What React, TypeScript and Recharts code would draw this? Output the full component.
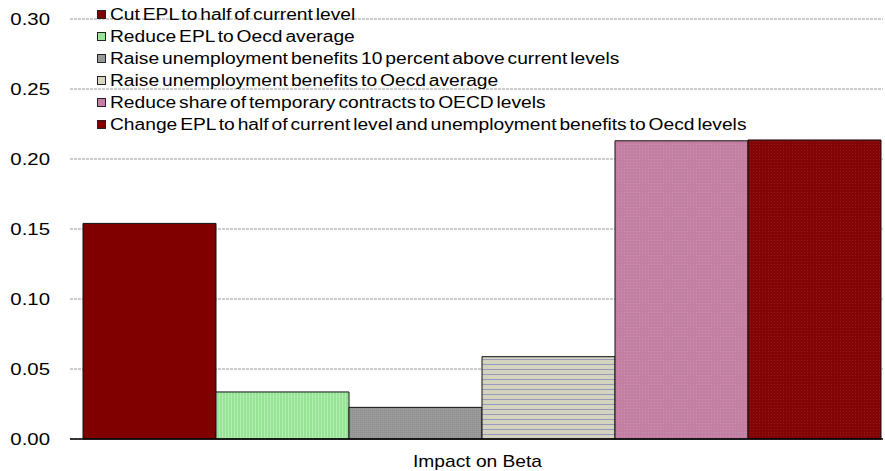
import React from 'react';
import { BarChart, Bar, XAxis, YAxis, CartesianGrid } from 'recharts';

document.body.style.margin = '0';

const categories = ['Impact on Beta'];
const seriesNames = [
  'Cut EPL to half of current level',
  'Reduce EPL to Oecd average',
  'Raise unemployment benefits 10 percent above current levels',
  'Raise unemployment benefits to Oecd average',
  'Reduce share of temporary contracts to OECD levels',
  'Change EPL to half of current level and unemployment benefits to Oecd levels',
];
const seriesValues = [0.154, 0.0336, 0.0226, 0.0588, 0.213, 0.2136];
const yTicks = [0, 0.05, 0.1, 0.15, 0.2, 0.25, 0.3];

const barFills = ['#800000', 'url(#pGreen)', 'url(#pGray)', 'url(#pBeige)', 'url(#pPink)', 'url(#pRed)'];
const swatchColors = ['#800000', '#99e699', '#999999', '#d6d6c2', '#c47fa5', '#800000'];

const data = categories.map((name) => {
  const row: Record<string, string | number> = { name };
  seriesValues.forEach((v, i) => {
    row['s' + i] = v;
  });
  return row;
});

const FONT = 'Arial, "Liberation Sans", sans-serif';

const YTick = ({ x, y, payload }: any) => (
  <text
    transform={`translate(${x},${y}) scale(1.2,1)`}
    textAnchor="end"
    dy="0.35em"
    fontSize={17}
    fontFamily={FONT}
    fill="#000"
  >
    {Number(payload.value).toFixed(2)}
  </text>
);

const XTick = ({ x, y, payload }: any) => (
  <text
    transform={`translate(${x - 5},${y}) scale(1.2,1)`}
    textAnchor="middle"
    dy="0.71em"
    fontSize={16}
    fontFamily={FONT}
    fill="#000"
  >
    {payload.value}
  </text>
);

export default function App() {
  return (
    <div style={{ position: 'relative', width: 885, height: 471, background: '#fff' }}>
      <BarChart
        width={885}
        height={471}
        data={data}
        barCategoryGap={0}
        barGap={0}
        margin={{ top: 19, right: 2, bottom: 0, left: 0 }}
      >
        <defs>
          <pattern id="pGreen" width="3" height="3" patternUnits="userSpaceOnUse">
            <rect width="3" height="3" fill="#96e396" />
            <rect width="1" height="3" fill="#b3efb3" />
          </pattern>
          <pattern id="pGray" width="2" height="2" patternUnits="userSpaceOnUse">
            <rect width="2" height="2" fill="#9a9a9a" />
            <rect width="1" height="1" fill="#8c8c8c" />
          </pattern>
          <pattern id="pBeige" width="5" height="5" patternUnits="userSpaceOnUse">
            <rect width="5" height="5" fill="#d3d3bf" />
            <rect y="4" width="5" height="1" fill="#9a9abb" />
          </pattern>
          <pattern id="pPink" width="3" height="3" patternUnits="userSpaceOnUse">
            <rect width="3" height="3" fill="#c27fa2" />
            <rect width="1" height="1" fill="#cc93b2" />
          </pattern>
          <pattern id="pRed" width="3" height="3" patternUnits="userSpaceOnUse">
            <rect width="3" height="3" fill="#820404" />
            <rect width="1" height="1" fill="#941a1a" />
          </pattern>
        </defs>
        <CartesianGrid vertical={false} stroke="#999" strokeDasharray="3 1" />
        <XAxis
          dataKey="name"
          height={32}
          padding={{ left: 13, right: 1 }}
          tickLine={false}
          tickSize={0}
          tickMargin={17}
          axisLine={{ stroke: '#000', strokeWidth: 1.5 }}
          tick={<XTick />}
        />
        <YAxis
          width={70}
          domain={[0, 0.3]}
          ticks={yTicks}
          interval={0}
          axisLine={false}
          tickLine={false}
          tickSize={0}
          tickMargin={20}
          tick={<YTick />}
        />
        {seriesNames.map((n, i) => (
          <Bar
            key={n}
            dataKey={'s' + i}
            name={n}
            fill={barFills[i]}
            stroke="#111"
            strokeWidth={1}
            isAnimationActive={false}
          />
        ))}
      </BarChart>
      <div style={{ position: 'absolute', top: 4, left: 0, fontFamily: FONT, fontSize: 16, color: '#000' }}>
        {seriesNames.map((n, i) => (
          <div key={n} style={{ position: 'relative', height: 22 }}>
            <span
              style={{
                position: 'absolute',
                left: 97,
                top: 6,
                width: 7,
                height: 7,
                background: swatchColors[i],
                border: '1px solid #222',
              }}
            />
            <span
              style={{
                position: 'absolute',
                left: 110,
                top: 1,
                whiteSpace: 'nowrap',
                wordSpacing: -2,
                lineHeight: '20px',
                transform: 'scaleX(1.2)',
                transformOrigin: 'left center',
              }}
            >
              {n}
            </span>
          </div>
        ))}
      </div>
    </div>
  );
}
